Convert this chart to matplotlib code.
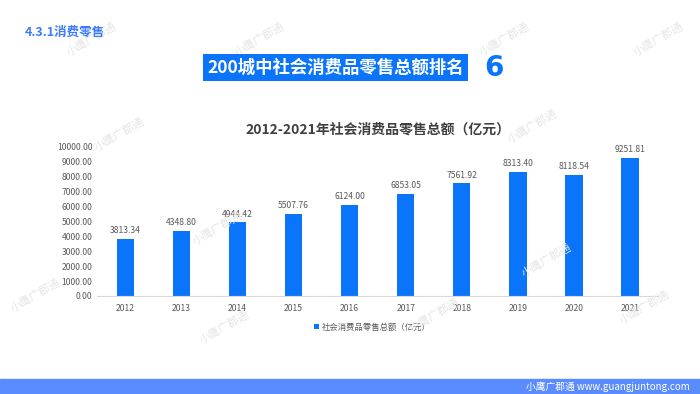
import matplotlib.pyplot as plt
import numpy as np

plt.rcParams['font.family'] = ['Noto Sans CJK SC', 'DejaVu Sans']

years = ['2012', '2013', '2014', '2015', '2016', '2017', '2018', '2019', '2020', '2021']
sales = [3813.34, 4348.80, 4944.42, 5507.76, 6124.00, 6853.05, 7561.92, 8313.40, 8118.54, 9251.81]
yticks = np.arange(0, 10001, 1000)

blue = '#0a75fa'
gray = '#595959'

fig = plt.figure(figsize=(7, 3.94), dpi=100)
ax = fig.add_axes([0.139, 0.249, 0.801, 0.378])
ax.set_facecolor('none')

x = np.arange(len(years))
ax.bar(x, sales, width=0.31, color=blue, label='社会消费品零售总额（亿元）')
for xi, v in zip(x, sales):
    ax.text(xi, v + 250, f'{v:.2f}', ha='center', va='bottom', fontsize=6.2, color=gray)

ax.set_xlim(-0.5, len(years) - 0.5)
ax.set_ylim(0, 10000)
ax.set_xticks(x)
ax.set_xticklabels(years)
ax.set_yticks(yticks)
ax.set_yticklabels([f'{t:.2f}' for t in yticks])
ax.tick_params(length=0, labelsize=6.2, labelcolor=gray)
ax.tick_params(axis='x', pad=6)
for s in ['top', 'right', 'left']:
    ax.spines[s].set_visible(False)
ax.spines['bottom'].set_color('#d9d9d9')

ax.set_title('2012-2021年社会消费品零售总额（亿元）', fontsize=10, fontweight='bold',
             color='#404040', pad=10)
ax.legend(loc='upper center', bbox_to_anchor=(0.49, -0.13), frameon=False, fontsize=6,
          handlelength=0.6, handleheight=0.6, handletextpad=0.3, labelcolor=gray)

# header texts
fig.text(0.036, 0.918, '4.3.1消费零售', fontsize=9, fontweight='bold', color='#3d7bff',
         va='center')
fig.text(0.479, 0.828, '200城中社会消费品零售总额排名', fontsize=12.5, fontweight='bold',
         color='white', ha='center', va='center',
         bbox=dict(boxstyle='square,pad=0.25', fc='#0a75fa', ec='none'))
fig.text(0.705, 0.828, '6', fontsize=20, fontweight='bold', color='#0a75fa',
         ha='center', va='center', family='DejaVu Sans')

# bottom band
fig.patches.append(plt.Rectangle((0, 0), 1, 0.037, transform=fig.transFigure,
                                 color='#5b8cff', zorder=0))
fig.text(0.985, 0.018, '小鹰广郡通 www.guangjuntong.com', fontsize=7, color='white',
         ha='right', va='center')

# watermarks
marks = [(0.13, 0.90), (0.37, 0.90), (0.72, 0.90), (0.94, 0.90), (0.17, 0.66),
         (0.76, 0.68), (0.31, 0.42), (0.78, 0.34), (0.32, 0.17), (0.62, 0.20),
         (0.92, 0.22), (0.05, 0.25)]
for mx, my in marks:
    fig.text(mx, my, '小鹰广郡通', fontsize=8, color='#e6e6e6', rotation=30,
             ha='center', va='center', zorder=0)

fig.savefig('out.png', dpi=100)
